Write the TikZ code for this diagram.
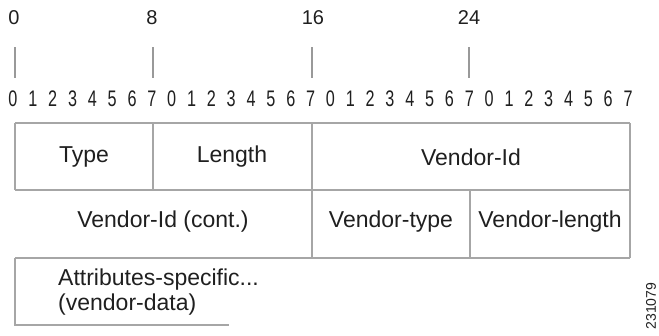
\documentclass[tikz,border=0pt]{standalone}
\usepackage{fontspec}
\setmainfont{Liberation Sans}
\begin{document}
\begin{tikzpicture}[x=1pt,y=-1pt,
  grid/.style={draw=black!35,line width=1.4pt},
  lbl/.style={text=black!88,inner sep=0pt,font=\fontsize{23}{27}\selectfont},
  toplbl/.style={text=black!88,inner sep=0pt,font=\fontsize{20}{23}\selectfont},
  bitlbl/.style={text=black!88,inner sep=0pt,xscale=0.72,font=\fontsize{22.5}{25}\selectfont},
  tick/.style={draw=black!40,line width=1.2pt}]
\useasboundingbox (0,0) rectangle (659,335);
% top labels
\node[toplbl] (l0) at (14,18) {0};
\node[toplbl] (l8) at (152,18) {8};
\node[toplbl] (l16) at (313,18) {16};
\node[toplbl] (l24) at (469,18) {24};
\draw[tick] (15,47) -- (15,78);
\draw[tick] (153,47) -- (153,78);
\draw[tick] (312,47) -- (312,78);
\draw[tick] (469,47) -- (469,78);
% bit row
\foreach \n in {0,...,31}{
  \pgfmathtruncatemacro{\d}{mod(\n,8)}
  \node[bitlbl] (b\n) at ({13+19.84*\n},99) {\d};
}
% table lines
\draw[grid] (15,123) -- (630,123);
\draw[grid] (15,190) -- (630,190);
\draw[grid] (15,258) -- (630,258);
\draw[grid] (15,123) -- (15,190);
\draw[grid] (153,123) -- (153,190);
\draw[grid] (312,123) -- (312,258);
\draw[grid] (470,190) -- (470,258);
\draw[grid] (630,123) -- (630,258);
\draw[grid] (15,258) -- (15,325) -- (229,325);
% field labels
\node[lbl] (type) at (84,157) {Type};
\node[lbl] (len) at (232,157) {Length};
\node[lbl] (vid) at (471,157) {Vendor-Id};
\node[lbl] (vidc) at (163,222) {Vendor-Id (cont.)};
\node[lbl] (vtype) at (391,222) {Vendor-type};
\node[lbl] (vlen) at (550,222) {Vendor-length};
\node[lbl,anchor=base west] (attr) at (58,285) {Attributes-specific...};
\node[lbl,anchor=base west] (vdata) at (58,310) {(vendor-data)};
\node[text=black!88,inner sep=0pt,rotate=90,font=\fontsize{14}{16}\selectfont] (fig) at (651,306) {231079};
\end{tikzpicture}
\end{document}
